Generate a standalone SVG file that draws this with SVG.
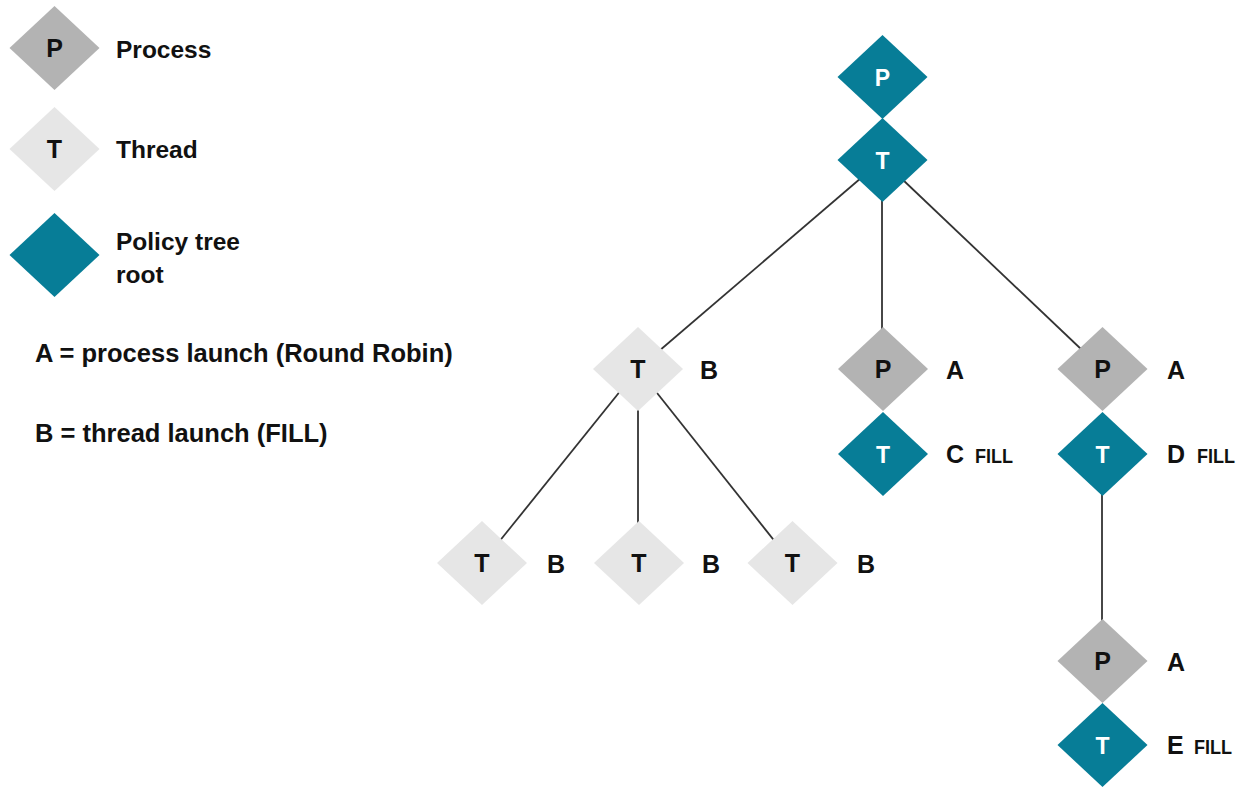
<svg xmlns="http://www.w3.org/2000/svg" width="1249" height="787" viewBox="0 0 1249 787">
<style>
.proc{fill:#b3b3b3}
.thr{fill:#e6e6e6}
.root{fill:#077d97}
.txt{font-family:"Liberation Sans",Arial,sans-serif;font-weight:bold;fill:#111}
.lg{font-size:24.5px}
.key{font-size:25.5px}
.lbl{font-size:25px}
.fill{font-size:20px}
.in{font-family:"Liberation Sans",Arial,sans-serif;font-weight:bold;font-size:25px;text-anchor:middle;fill:#111}
.inw{font-family:"Liberation Sans",Arial,sans-serif;font-weight:bold;font-size:23px;text-anchor:middle;fill:#fff}
.edge{stroke:#333;stroke-width:1.8;fill:none}
</style>
<defs>
<path id="dm" d="M0,-42 L45,0 L0,42 L-45,0 Z"/>
</defs>
<rect width="1249" height="787" fill="#fff"/>

<g id="legend">
<g id="legend-process"><use href="#dm" class="proc" x="54.5" y="48"/><text class="in" x="54.5" y="57">P</text><text class="txt lg" x="116" y="58">Process</text></g>
<g id="legend-thread"><use href="#dm" class="thr" x="54.5" y="149"/><text class="in" x="54.5" y="158">T</text><text class="txt lg" x="116" y="158">Thread</text></g>
<g id="legend-root"><use href="#dm" class="root" x="54.5" y="255"/><text class="txt lg" x="116" y="250">Policy tree</text><text class="txt lg" x="116" y="283">root</text></g>
<text class="txt key" x="35" y="362">A = process launch (Round Robin)</text>
<text class="txt key" x="35" y="442">B = thread launch (FILL)</text>
</g>

<g id="connectors">
<line class="edge" x1="882" y1="160" x2="638" y2="369"/>
<line class="edge" x1="882" y1="160" x2="882" y2="369"/>
<line class="edge" x1="882" y1="160" x2="1102" y2="369"/>
<line class="edge" x1="638" y1="369" x2="482" y2="563"/>
<line class="edge" x1="638" y1="369" x2="638" y2="563"/>
<line class="edge" x1="638" y1="369" x2="792" y2="563"/>
<line class="edge" x1="1102" y1="454" x2="1102" y2="660"/>
</g>

<g id="n-root-p"><use href="#dm" class="root" x="882.5" y="77"/><text class="inw" x="882.5" y="85.5">P</text></g>
<g id="n-root-t"><use href="#dm" class="root" x="882.5" y="160"/><text class="inw" x="882.5" y="168.5">T</text></g>

<g id="n-t-b"><use href="#dm" class="thr" x="638" y="369"/><text class="in" x="638" y="378">T</text><text class="txt lbl" x="700" y="379">B</text></g>
<g id="n-p-a1"><use href="#dm" class="proc" x="883" y="369"/><text class="in" x="883" y="378">P</text><text class="txt lbl" x="946" y="379">A</text></g>
<g id="n-t-c"><use href="#dm" class="root" x="883" y="454"/><text class="inw" x="883" y="462.5">T</text><text class="txt lbl" x="946" y="463">C</text><text class="txt fill" x="975" y="463" textLength="38" lengthAdjust="spacingAndGlyphs">FILL</text></g>
<g id="n-p-a2"><use href="#dm" class="proc" x="1102.5" y="369"/><text class="in" x="1102.5" y="378">P</text><text class="txt lbl" x="1167" y="379">A</text></g>
<g id="n-t-d"><use href="#dm" class="root" x="1102.5" y="454"/><text class="inw" x="1102.5" y="462.5">T</text><text class="txt lbl" x="1167" y="463">D</text><text class="txt fill" x="1197" y="463" textLength="38" lengthAdjust="spacingAndGlyphs">FILL</text></g>

<g id="n-t-b1"><use href="#dm" class="thr" x="482" y="563"/><text class="in" x="482" y="572">T</text><text class="txt lbl" x="547" y="573">B</text></g>
<g id="n-t-b2"><use href="#dm" class="thr" x="639" y="563"/><text class="in" x="639" y="572">T</text><text class="txt lbl" x="702" y="573">B</text></g>
<g id="n-t-b3"><use href="#dm" class="thr" x="792.5" y="563"/><text class="in" x="792.5" y="572">T</text><text class="txt lbl" x="857" y="573">B</text></g>

<g id="n-p-a3"><use href="#dm" class="proc" x="1102.5" y="661"/><text class="in" x="1102.5" y="670">P</text><text class="txt lbl" x="1167" y="671">A</text></g>
<g id="n-t-e"><use href="#dm" class="root" x="1102.5" y="745"/><text class="inw" x="1102.5" y="753.5">T</text><text class="txt lbl" x="1167" y="754">E</text><text class="txt fill" x="1194" y="754" textLength="38" lengthAdjust="spacingAndGlyphs">FILL</text></g>
</svg>
